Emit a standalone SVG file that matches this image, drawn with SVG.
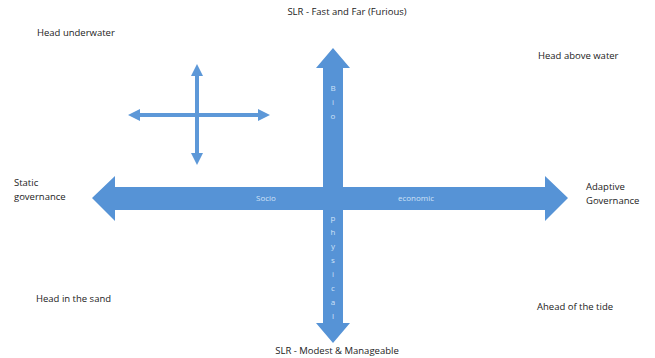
<svg xmlns="http://www.w3.org/2000/svg" width="655" height="358" viewBox="0 0 655 358">
<style>
.lbl{font-family:"Open Sans","Liberation Sans",sans-serif;font-size:9.5px;fill:#222}
.in{font-family:"Open Sans","Liberation Sans",sans-serif;font-size:8px;fill:#cfe2f7}
.ar{fill:#5693d6}
.thin{stroke:#5d98d8;stroke-width:4;fill:none}
</style>
<defs>
<marker id="sm" viewBox="0 0 10 10" refX="5" refY="5" markerWidth="3" markerHeight="3" orient="auto-start-reverse">
<path d="M0,0 L10,5 L0,10 z" fill="#5d98d8"/>
</marker>
</defs>
<rect width="655" height="358" fill="#fff"/>
<g id="connectors">
<path id="vaxis" class="ar" d="M333,48 L350,68 L343,68 L343,323 L350,323 L333,343 L316,323 L323,323 L323,68 L316,68 Z"/>
<path id="haxis" class="ar" d="M92,198 L115,176 L115,187 L545,187 L545,176 L568,198 L545,221 L545,210 L115,210 L115,221 Z"/>
<line class="thin" x1="134" y1="115" x2="264" y2="115" marker-start="url(#sm)" marker-end="url(#sm)"/>
<line class="thin" x1="197" y1="70" x2="197" y2="159" marker-start="url(#sm)" marker-end="url(#sm)"/>
</g>
<g id="axis-labels">
<text class="in" x="266" y="201" text-anchor="middle">Socio</text>
<text class="in" x="416" y="201" text-anchor="middle">economic</text>
<text class="in" x="333" y="91" text-anchor="middle">B</text>
<text class="in" x="333" y="105" text-anchor="middle">i</text>
<text class="in" x="333" y="119" text-anchor="middle">o</text>
<text class="in" x="333" y="221" text-anchor="middle">p</text>
<text class="in" x="333" y="235" text-anchor="middle">h</text>
<text class="in" x="333" y="249" text-anchor="middle">y</text>
<text class="in" x="333" y="263" text-anchor="middle">s</text>
<text class="in" x="333" y="277" text-anchor="middle">i</text>
<text class="in" x="333" y="291" text-anchor="middle">c</text>
<text class="in" x="333" y="305" text-anchor="middle">a</text>
<text class="in" x="333" y="319" text-anchor="middle">l</text>
</g>
<g id="n-top"><text class="lbl" x="347" y="15" text-anchor="middle">SLR - Fast and Far (Furious)</text></g>
<g id="n-bottom"><text class="lbl" x="337" y="354" text-anchor="middle">SLR - Modest &amp; Manageable</text></g>
<g id="n-tl"><text class="lbl" x="37" y="36">Head underwater</text></g>
<g id="n-tr"><text class="lbl" x="538" y="59">Head above water</text></g>
<g id="n-left"><text class="lbl" x="14" y="186">Static</text><text class="lbl" x="14" y="200">governance</text></g>
<g id="n-right"><text class="lbl" x="586" y="190">Adaptive</text><text class="lbl" x="586" y="204">Governance</text></g>
<g id="n-bl"><text class="lbl" x="36" y="302">Head in the sand</text></g>
<g id="n-br"><text class="lbl" x="537" y="310">Ahead of the tide</text></g>
</svg>
